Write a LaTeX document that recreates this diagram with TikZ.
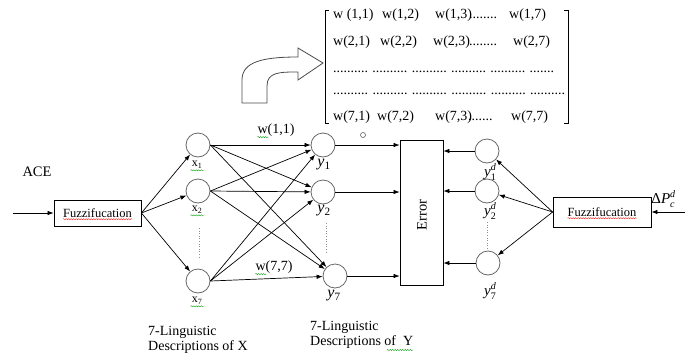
\documentclass[tikz,border=0pt]{standalone}
\usepackage{fontspec}
\setmainfont{Liberation Serif}
\usetikzlibrary{arrows.meta,decorations.pathmorphing,calc}
\newcommand{\mysupsub}[2]{\rlap{\raisebox{6.5pt}{\fontsize{10}{10}\selectfont #1}}\raisebox{-3.5pt}{\fontsize{10}{10}\selectfont #2}}
\begin{document}
\begin{tikzpicture}[x=1pt,y=-1pt,
  every node/.style={font=\fontsize{14}{16}\selectfont, inner sep=0pt},
  neuron/.style={draw=black!60, circle, minimum size=24pt, inner sep=0pt, line width=0.8pt},
  boxnode/.style={draw, rectangle, line width=0.8pt},
  arr/.style={-{Latex[length=6pt,width=4.5pt]}, line width=0.7pt},
  dotline/.style={draw=black!45, dotted, line width=0.6pt},
  redwave/.style={draw=red!85, decorate, decoration={snake, segment length=2.5pt, amplitude=0.6pt}, line width=0.4pt},
  greenwave/.style={draw=green!60!black, decorate, decoration={snake, segment length=2.5pt, amplitude=0.6pt}, line width=0.4pt},
  fuzztext/.style={font=\fontsize{12.5}{14}\selectfont},
  mrow/.style={anchor=base west},
]
\useasboundingbox (0,0) rectangle (690,354);

% ---- left input
\node[boxnode, minimum width=87pt, minimum height=26pt] (fl) at (97.5,213) {};
\node[fuzztext] (fltext) at (fl.center) {Fuzzifucation};
\draw[redwave] ($(fltext.south west)+(0,1.5)$) -- ($(fltext.south east)+(0,1.5)$);
\node[font=\fontsize{14.5}{16}\selectfont] (ace) at (37,172) {ACE};
\coordinate (acein) at (13,213);
\draw[arr] (acein) -- (fl.west);

% ---- x layer
\node[neuron] (x1) at (198,145) {};
\node[neuron] (x2) at (198,191) {};
\node[neuron] (x7) at (198,281) {};
\node[font=\fontsize{12}{14}\selectfont] (lx1) at (197,165) {x\textsubscript{1}};
\node[font=\fontsize{12}{14}\selectfont] (lx2) at (197,210) {x\textsubscript{2}};
\node[font=\fontsize{12}{14}\selectfont] (lx7) at (197,301) {x\textsubscript{7}};
\foreach \n in {lx1,lx2,lx7}
  \draw[greenwave] ($(\n.south west)+(-1,1.5)$) -- ($(\n.south east)+(1,1.5)$);
\draw[dotline] (199,228) -- (199,258);

\foreach \n in {x1,x2,x7} \draw[arr] (fl.east) -- (\n);

% ---- y layer
\node[neuron] (y1) at (323,145) {};
\node[neuron] (y2) at (323,192) {};
\node[neuron] (y7) at (335,276) {};
\node[font=\fontsize{16}{18}\selectfont] (ly1) at (324,165) {\textit{y}\textsubscript{1}};
\node[font=\fontsize{16}{18}\selectfont] (ly2) at (324,211) {\textit{y}\textsubscript{2}};
\node[font=\fontsize{16}{18}\selectfont] (ly7) at (334,296) {\textit{y}\textsubscript{7}};
\draw[dotline] (326,223) -- (326,252);
\node[draw=black!70, circle, minimum size=5pt, line width=0.5pt] (smallo) at (363,135) {};

\foreach \a in {x1,x2,x7}
  \foreach \b in {y1,y2,y7}
    \draw[arr] (\a.east) -- (\b);

\node (w11) at (276,130) {w(1,1)};
\node (w77) at (274,267) {w(7,7)};
\draw[greenwave] ($(w11.south west)+(0,0.5)$) -- ++(11,0);
\draw[greenwave] ($(w77.south west)+(0,0.5)$) -- ++(11,0);

% ---- error box
\node[boxnode, minimum width=43pt, minimum height=145pt] (err) at (421.5,212.5) {};
\node[rotate=90, font=\fontsize{14.5}{16}\selectfont] (errtext) at (422,215) {Error};
\foreach \n in {y1,y2,y7} \draw[arr] (\n.east) -- (\n.east -| err.west);

% ---- desired outputs
\node[neuron] (yd1) at (487,151) {};
\node[neuron] (yd2) at (487,191) {};
\node[neuron] (yd7) at (488,263) {};
\node[font=\fontsize{15}{17}\selectfont] (lyd1) at (490,172) {\textit{y}\mysupsub{\textit{d}}{1}};
\node[font=\fontsize{15}{17}\selectfont] (lyd2) at (490,211) {\textit{y}\mysupsub{\textit{d}}{2}};
\node[font=\fontsize{15}{17}\selectfont] (lyd7) at (490,291) {\textit{y}\mysupsub{\textit{d}}{7}};
\draw[dotline] (487,222) -- (487,250);
\foreach \n in {yd1,yd2,yd7} \draw[arr] (\n.west) -- (\n.west -| err.east);

% ---- right input
\node[boxnode, minimum width=98pt, minimum height=30pt] (fr) at (602,212) {};
\node[fuzztext] (frtext) at (fr.center) {Fuzzifucation};
\draw[redwave] ($(frtext.south west)+(0,1.5)$) -- ($(frtext.south east)+(0,1.5)$);
\foreach \n in {yd1,yd2,yd7} \draw[arr] (fr.west) -- (\n);
\coordinate (pin) at (685,212);
\draw[arr] (pin) -- (fr.east);
\node[font=\fontsize{15}{17}\selectfont] (dp) at (663,199) {Δ\textit{P}\mysupsub{\textit{d}}{\textit{c}}};

% ---- bent arrow
\draw[draw=black!70, fill=white, line width=0.8pt]
  (242,103) -- (242,80) .. controls (242,62) and (262,57) .. (298,57)
  -- (298,48) -- (323,63) -- (298,80) -- (298,72)
  .. controls (280,72) and (267,72) .. (267,86) -- (267,103) -- cycle;

% ---- matrix
\draw[line width=0.8pt] (329,10) -- (325,10) -- (325,123) -- (329,123);
\draw[line width=0.8pt] (564,10) -- (568,10) -- (568,123) -- (564,123);
\node[mrow] (m11) at (333,18.5) {w (1,1)};
\node[mrow] (m12) at (382,18.5) {w(1,2)};
\node[mrow] (m13) at (435,18.5) {w(1,3)};
\node[mrow] (m1d) at (469,18.5) {........};
\node[mrow] (m17) at (509,18.5) {w(1,7)};
\node[mrow] (m21) at (333,45.5) {w(2,1)};
\node[mrow] (m22) at (380,45.5) {w(2,2)};
\node[mrow] (m23) at (433,45.5) {w(2,3)};
\node[mrow] (m2d) at (469,45.5) {........};
\node[mrow] (m27) at (513,45.5) {w(2,7)};
\node[mrow] (m3d) at (333,72) {\makebox[220pt][s]{.......... .......... .......... .......... .......... .......}};
\node[mrow] (m4d) at (333,94) {\makebox[232pt][s]{.......... .......... .......... .......... .......... ..........}};
\node[mrow] (m71) at (333,120.5) {w(7,1)};
\node[mrow] (m72) at (377,120.5) {w(7,2)};
\node[mrow] (m73) at (435,120.5) {w(7,3)};
\node[mrow] (m7d) at (468,120.5) {.......};
\node[mrow] (m77) at (511,120.5) {w(7,7)};

% ---- bottom captions
\node[anchor=west] (capx1) at (148,332) {7-Linguistic};
\node[anchor=west] (capx2) at (148,347) {Descriptions of X};
\node[anchor=west] (capy1) at (310,327) {7-Linguistic};
\node[anchor=west] (capy2) at (310,342) {Descriptions of\ \ Y};
\draw[greenwave] (387,350) -- (413,350);
\end{tikzpicture}
\end{document}
